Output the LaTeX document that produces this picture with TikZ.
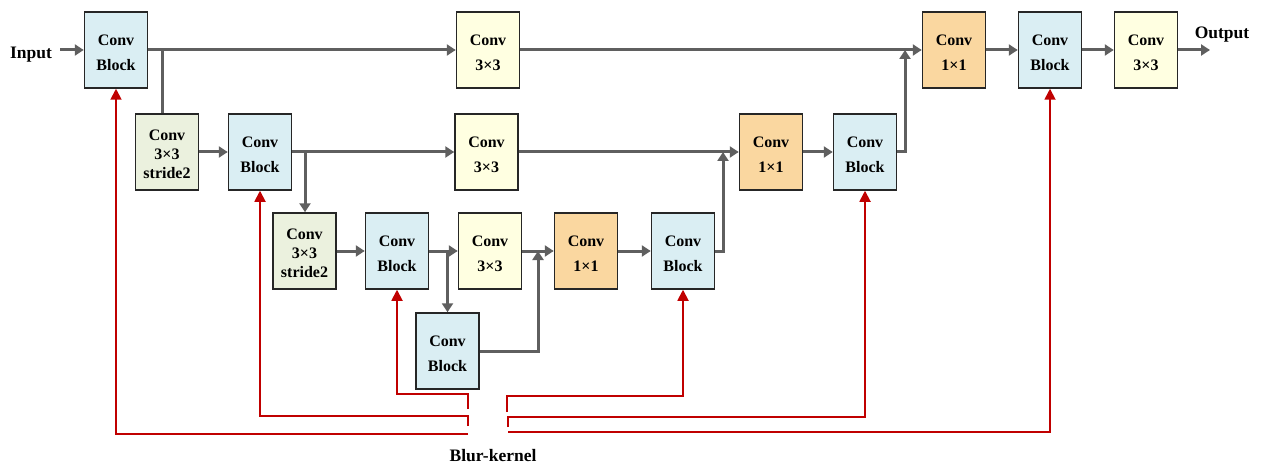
\documentclass[tikz,border=0pt]{standalone}
\usepackage{fontspec}
\setmainfont{Liberation Serif}
\usetikzlibrary{arrows.meta}
\definecolor{cbblue}{HTML}{DAEEF3}
\definecolor{cyellow}{HTML}{FFFFE1}
\definecolor{cgreen}{HTML}{EBF1DE}
\definecolor{corange}{HTML}{FAD7A0}
\definecolor{garrow}{HTML}{5F5F5F}
\definecolor{rline}{HTML}{C00000}
\begin{document}
\begin{tikzpicture}[x=1pt,y=-1pt,
 box/.style={draw=black!85, line width=1.5pt, minimum width=63pt, minimum height=76pt, inner sep=0pt, align=center, text height=41pt, font=\fontsize{16}{25}\selectfont\bfseries},
 blk/.style={box, fill=cbblue},
 yel/.style={box, fill=cyellow},
 grn/.style={box, fill=cgreen, text height=53pt, font=\fontsize{16}{19}\selectfont\bfseries},
 org/.style={box, fill=corange},
 flow/.style={draw=garrow, line width=3pt, -{Triangle[length=9pt,width=11pt]}},
 plain/.style={draw=garrow, line width=3pt},
 blurarr/.style={draw=rline, line width=1.8pt, -{Triangle[length=11pt,width=11pt]}},
 lbl/.style={font=\fontsize{17.5}{20}\selectfont\bfseries, inner sep=0pt}
]
\useasboundingbox (0,0) rectangle (1265,465);

% row 1
\node[blk] (cb1) at (116,50) {Conv\\Block};
\node[yel] (c33a) at (488,50) {Conv\\3×3};
\node[org] (o1a) at (954,50) {Conv\\1×1};
\node[blk] (cb1r) at (1050,50) {Conv\\Block};
\node[yel] (c33r) at (1146,50) {Conv\\3×3};
% row 2
\node[grn] (s2a) at (167,152) {Conv\\3×3\\stride2};
\node[blk] (cb2) at (260,152) {Conv\\Block};
\node[yel] (c33b) at (486.5,152) {Conv\\3×3};
\node[org] (o1b) at (771,152) {Conv\\1×1};
\node[blk] (cb2r) at (865,152) {Conv\\Block};
% row 3
\node[grn] (s2b) at (304.5,251) {Conv\\3×3\\stride2};
\node[blk] (cb3) at (397,251) {Conv\\Block};
\node[yel] (c33c) at (490,251) {Conv\\3×3};
\node[org] (o1c) at (586,251) {Conv\\1×1};
\node[blk] (cb3r) at (683,251) {Conv\\Block};
% row 4
\node[blk] (cb4) at (447.5,351) {Conv\\Block};

% labels
\node[lbl] (inp) at (31,55) {Input};
\node[lbl] (outp) at (1222,35) {Output};
\node[lbl] (blurk) at (493,455.5) {Blur-kernel};

% gray connectors
\coordinate (inS) at (60,50);
\draw[flow] (inS) -- (cb1.west);
\draw[flow] (cb1.east) -- (c33a.west);
\coordinate (br1) at (162,50);
\draw[plain] (br1) -- (br1 |- s2a.north);
\draw[flow] (s2a.east) -- (cb2.west);
\draw[flow] (cb2.east) -- (c33b.west);
\coordinate (br2) at (305,152);
\draw[flow] (br2) -- (br2 |- s2b.north);
\draw[flow] (s2b.east) -- (cb3.west);
\draw[flow] (cb3.east) -- (c33c.west);
\draw[flow] (cb4.north |- cb3.east) -- (cb4.north);
\draw[flow] (c33c.east) -- (o1c.west);
\coordinate (j3) at (538,251);
\draw[flow] (cb4.east) -| (j3);
\draw[flow] (o1c.east) -- (cb3r.west);
\coordinate (j2) at (723,152);
\draw[flow] (cb3r.east) -| (j2);
\draw[flow] (c33b.east) -- (o1b.west);
\draw[flow] (o1b.east) -- (cb2r.west);
\coordinate (j1) at (905,50);
\draw[flow] (cb2r.east) -| (j1);
\draw[flow] (c33a.east) -- (o1a.west);
\draw[flow] (o1a.east) -- (cb1r.west);
\draw[flow] (cb1r.east) -- (c33r.west);
\coordinate (outE) at (1210,50);
\draw[flow] (c33r.east) -- (outE);

% red blur-kernel connectors
\coordinate (L1) at (468,434);
\draw[blurarr] (L1) -| (cb1.south);
\coordinate (L2) at (468,426);
\draw[blurarr] (L2) -- ++(0,-10) -| (cb2.south);
\coordinate (L3) at (468,409);
\draw[blurarr] (L3) -- ++(0,-15) -| (cb3.south);
\coordinate (R1) at (507,412);
\draw[blurarr] (R1) -- ++(0,-16) -| (cb3r.south);
\coordinate (R2) at (508,427);
\draw[blurarr] (R2) -- ++(0,-10) -| (cb2r.south);
\coordinate (R3) at (508,432);
\draw[blurarr] (R3) -| (cb1r.south);
\end{tikzpicture}
\end{document}
